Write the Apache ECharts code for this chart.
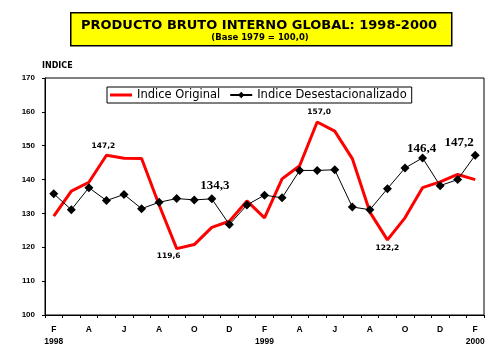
<!DOCTYPE html>
<html><head><meta charset="utf-8">
<script src="https://cdn.jsdelivr.net/npm/echarts@6/dist/echarts.min.js"></script>
<style>html,body{margin:0;padding:0;background:#fff}#c{width:503px;height:357px}</style>
</head><body><div id="c"></div>
<script>
const months = ['F','M','A','M','J','J','A','S','O','N','D','E','F','M','A','M','J','J','A','S','O','N','D','E','F'];
const yearLabels = {0:'1998', 12:'1999', 24:'2000'};
const original = [129.2,136.6,139.2,147.2,146.3,146.2,132.5,119.6,120.8,125.9,127.7,133.7,128.7,140.2,144.1,157.0,154.3,146.2,130.4,122.2,128.7,137.6,139.3,141.5,140.0];
const deses = [135.8,131.1,137.6,133.8,135.6,131.4,133.3,134.4,134.0,134.3,126.7,132.5,135.4,134.6,142.7,142.7,142.9,131.9,131.1,137.3,143.4,146.4,138.2,140.0,147.2];
const seriesNames = ['Indice Original','Indice Desestacionalizado'];
const labeledOriginal = [3, 7, 15, 19];
const labeledDeses = [9, 21, 24];
const titleText = 'PRODUCTO BRUTO INTERNO GLOBAL: 1998-2000';
const subtitleText = '(Base 1979 = 100,0)';
const yName = 'INDICE';

const fmt = v => v.toFixed(1).replace('.', ',');
const redPos = {3:'top',7:'bottom',15:'top',19:'bottom'};
const redOff = {3:[-3,1],7:[-8,-3],15:[2,0],19:[0,-2]};
const origData = original.map((v,i) => labeledOriginal.includes(i) ? {
  value: v, label: {show:true, position: redPos[i], offset: redOff[i], distance: 6, formatter: p => fmt(p.value),
    fontFamily:'DejaVu Sans', fontWeight:'bold', fontSize:7.5, color:'#000'}} : v);
const desOff = {9:[3,3],21:[-1,7],24:[-16,3]};
const desData = deses.map((v,i) => labeledDeses.includes(i) ? {
  value: v, label: {show:true, position:'top', offset: desOff[i], distance: 5, formatter: p => fmt(p.value),
    fontFamily:'Liberation Serif', fontWeight:'bold', fontSize:13, color:'#000'}} : v);

const chart = echarts.init(document.getElementById('c'), null, {renderer:'canvas'});
chart.setOption({
  animation:false,
  backgroundColor:'#fff',
  grid:{left:45, right:19, top:78, bottom:42, show:true, borderColor:'#000', borderWidth:1, backgroundColor:'transparent'},
  legend:{
    data:[{name:seriesNames[0], icon:'path://M0,0H22V3H0Z'}, {name:seriesNames[1]}],
    left:107, top:87, padding:[2,5,2,3], itemGap:9, itemWidth:22, itemHeight:8,
    borderColor:'#000', borderWidth:1, backgroundColor:'#fff',
    textStyle:{fontFamily:'DejaVu Sans', fontSize:11.5, color:'#000'}
  },
  xAxis:{
    type:'category', data:months, boundaryGap:true,
    axisLine:{lineStyle:{color:'#000', width:1}},
    axisTick:{show:true, interval:0, length:3, lineStyle:{color:'#000'}},
    axisLabel:{interval:1, margin:9, color:'#000', fontFamily:'Liberation Sans', fontWeight:'bold', fontSize:8.5, lineHeight:12,
      formatter:(v,i) => yearLabels[i] ? v + '\n' + yearLabels[i] : v},
    splitLine:{show:false}
  },
  yAxis:{
    type:'value', min:100, max:170, interval:10,
    axisLine:{show:true, lineStyle:{color:'#000'}},
    axisTick:{show:true, length:3, lineStyle:{color:'#000'}},
    axisLabel:{margin:10, color:'#000', fontFamily:'Liberation Sans', fontWeight:'bold', fontSize:8},
    splitLine:{show:false}
  },
  graphic:[
    {type:'rect', left:70, top:12, shape:{width:381, height:33}, style:{fill:'#ffff00', stroke:'#000', lineWidth:1.5}, z:10},
    {type:'text', x:259, y:19, style:{text:titleText, font:'bold 13px "DejaVu Sans"', fill:'#000', textAlign:'center'}, z:11},
    {type:'text', x:260, y:33, style:{text:subtitleText, font:'bold 8.5px "DejaVu Sans"', fill:'#000', textAlign:'center'}, z:11},
    {type:'text', left:42, top:62, style:{text:yName, font:'bold 8px "DejaVu Sans"', fill:'#000'}, z:11}
  ],
  series:[
    {name:seriesNames[0], type:'line', data:origData, symbol:'circle', showSymbol:true, symbolSize:0.01, lineStyle:{color:'#ff0000', width:3}, itemStyle:{color:'#ff0000'}, z:2},
    {name:seriesNames[1], type:'line', data:desData, symbol:'diamond', symbolSize:9, lineStyle:{color:'#000', width:1}, itemStyle:{color:'#000'}, z:3}
  ]
});
</script></body></html>
